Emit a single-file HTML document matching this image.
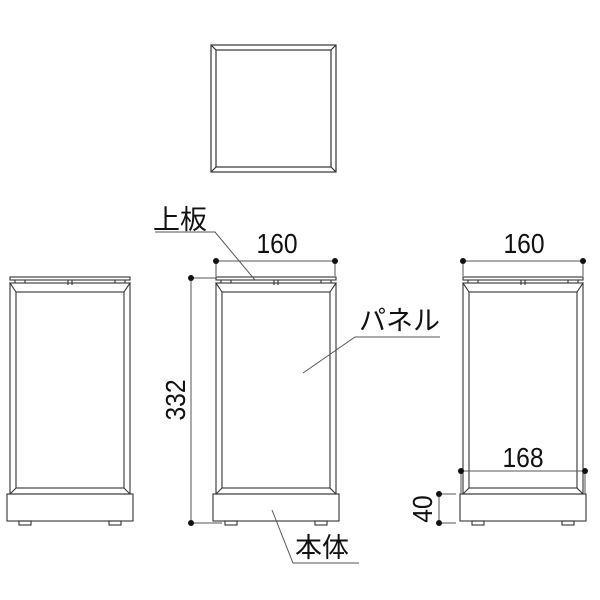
<!DOCTYPE html>
<html><head><meta charset="utf-8"><style>body{margin:0;background:#fff}svg{display:block}</style></head><body>
<svg width="600" height="600" xmlns="http://www.w3.org/2000/svg" font-family="Liberation Sans, Noto Sans CJK JP, sans-serif">
<rect width="600" height="600" fill="#fff"/>
<g fill="none" stroke="#333" stroke-width="1.2">
<rect x="211" y="45" width="125" height="127"/>
<rect x="216" y="50" width="115" height="117"/>
<line x1="211" y1="45" x2="216" y2="50"/><line x1="336" y1="45" x2="331" y2="50"/>
<line x1="211" y1="172" x2="216" y2="167"/><line x1="336" y1="172" x2="331" y2="167"/>
</g>
<defs>
<g id="unit" fill="none" stroke="#333" stroke-width="1.1">
<rect x="0" y="-6" width="120" height="3"/>
<path d="M5 -3 v3 M15 -3 v3 M5 -3 h10 M105 -3 v3 M115 -3 v3 M105 -3 h10 M58 -3 v5 M62 -3 v5" />
<path d="M0 0 H120 L114 9 H6 Z"/>
<rect x="0" y="0" width="120" height="211"/>
<rect x="6" y="9" width="108" height="196"/>
<line x1="0" y1="211" x2="6" y2="205"/><line x1="120" y1="211" x2="114" y2="205"/>
<rect x="-3" y="211" width="126" height="27"/>
<rect x="9" y="238" width="12" height="4"/><rect x="99" y="238" width="12" height="4"/>
</g>
</defs>
<use href="#unit" x="10" y="283"/>
<use href="#unit" x="216" y="283"/>
<use href="#unit" x="463" y="283"/>
<g stroke="#555" stroke-width="1" fill="none">
<line x1="216" y1="261" x2="335" y2="261"/><line x1="216" y1="261" x2="216" y2="276"/><line x1="335" y1="261" x2="335" y2="276"/>
<line x1="463" y1="261" x2="583" y2="261"/><line x1="463" y1="261" x2="463" y2="276"/><line x1="583" y1="261" x2="583" y2="276"/>
<line x1="191" y1="278" x2="191" y2="523"/><line x1="191" y1="278" x2="216" y2="278"/><line x1="191" y1="523" x2="222" y2="523"/>
<line x1="461" y1="471" x2="585" y2="471"/><line x1="461" y1="471" x2="461" y2="494"/><line x1="585" y1="471" x2="585" y2="494"/>
<line x1="439" y1="494" x2="439" y2="523"/><line x1="439" y1="494" x2="456" y2="494"/><line x1="439" y1="523" x2="456" y2="523"/>
<path d="M155 232 H215 L255 280"/>
<path d="M440 337 H355 L303 373"/>
<path d="M359 563 H293 L272 510"/>
</g>
<g fill="#111">
<circle cx="216" cy="261" r="3"/><circle cx="335" cy="261" r="3"/>
<circle cx="463" cy="261" r="3"/><circle cx="583" cy="261" r="3"/>
<circle cx="191" cy="278" r="3"/><circle cx="191" cy="523" r="3"/>
<circle cx="461" cy="471" r="3"/><circle cx="585" cy="471" r="3"/>
<circle cx="439" cy="494" r="3"/><circle cx="439" cy="523" r="3"/>
</g>
<g fill="#111" font-size="27">
<text x="153" y="229">上板</text>
<text x="359" y="330">パネル</text>
<text x="295" y="557">本体</text>
</g>
<g fill="#111" font-size="28">
<text transform="translate(277,253) scale(0.88,1)" text-anchor="middle">160</text>
<text transform="translate(524,253) scale(0.88,1)" text-anchor="middle">160</text>
<text transform="translate(523,467) scale(0.88,1)" text-anchor="middle">168</text>
<text transform="translate(185,400) rotate(-90) scale(0.88,1)" text-anchor="middle">332</text>
<text transform="translate(432,509) rotate(-90) scale(0.88,1)" text-anchor="middle">40</text>
</g>
</svg>
</body></html>
